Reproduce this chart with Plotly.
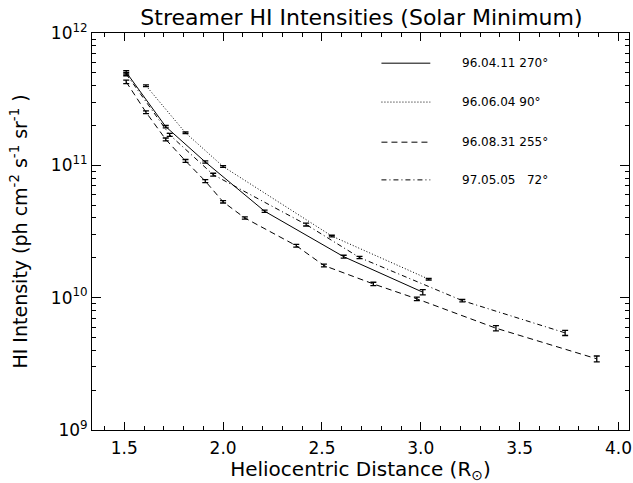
import plotly.graph_objects as go

# Heliocentric distance (solar radii) and HI intensity (ph cm^-2 s^-1 sr^-1)
r_960411 = [1.51, 1.71, 1.91, 2.21, 2.61, 3.01]
i_960411 = [5.05e11, 1.96e11, 1.06e11, 4.5e10, 2.04e10, 1.10e10]
e_960411 = [0.03, 0.02, 0.02, 0.02, 0.025, 0.045]

r_960604 = [1.61, 1.81, 2.00, 2.55, 3.04]
i_960604 = [4.0e11, 1.76e11, 9.8e10, 2.92e10, 1.38e10]
e_960604 = [0.015, 0.015, 0.015, 0.015, 0.015]

r_960831 = [1.51, 1.61, 1.71, 1.81, 1.91, 2.00, 2.11, 2.37, 2.51, 2.76, 2.98, 3.38, 3.89]
i_960831 = [4.27e11, 2.52e11, 1.57e11, 1.08e11, 7.6e10, 5.3e10, 4.0e10,
            2.47e10, 1.75e10, 1.27e10, 9.8e9, 5.88e9, 3.45e9]
e_960831 = [0.03, 0.025, 0.025, 0.025, 0.025, 0.02, 0.02, 0.025, 0.025, 0.03, 0.03, 0.045, 0.05]

r_970505 = [1.51, 1.73, 1.95, 2.42, 2.69, 3.21, 3.73]
i_970505 = [4.9e11, 1.70e11, 8.5e10, 3.57e10, 2.01e10, 9.5e9, 5.42e9]
e_970505 = [0.03, 0.025, 0.025, 0.025, 0.02, 0.02, 0.045]

labels = ["96.04.11\u00a0270°", "96.06.04\u00a090°", "96.08.31\u00a0255°",
          "97.05.05\u00a0\u00a0\u00a072°"]
dashes = ["solid", "1px,2px", "6px,4px", "5px,3px,1px,3px"]

xtick_vals = [1.5, 2.0, 2.5, 3.0, 3.5, 4.0]
xtick_text = ["1.5", "2.0", "2.5", "3.0", "3.5", "4.0"]
ytick_vals = [1e9, 1e10, 1e11, 1e12]
ytick_text = ["10<sup>9</sup>", "10<sup>10</sup>", "10<sup>11</sup>", "10<sup>12</sup>"]

series = [
    (r_960411, i_960411, e_960411),
    (r_960604, i_960604, e_960604),
    (r_960831, i_960831, e_960831),
    (r_970505, i_970505, e_970505),
]

FONT = "DejaVu Sans"
fig = go.Figure()
for (r, inten, frac), dash, name in zip(series, dashes, labels):
    fig.add_trace(go.Scatter(
        x=r, y=inten, mode="lines", name=name,
        line=dict(color="black", width=1, dash=dash),
        error_y=dict(type="data", array=[v * f for v, f in zip(inten, frac)],
                     color="black", thickness=1.3, width=3),
        showlegend=False,
    ))

# hand-drawn key in the upper right
key_y = [0.924, 0.826, 0.725, 0.630]
for yk, dash, name in zip(key_y, dashes, labels):
    fig.add_shape(type="line", xref="paper", yref="paper",
                  x0=0.539, x1=0.630, y0=yk, y1=yk,
                  line=dict(color="black", width=1, dash=dash))
    fig.add_annotation(xref="paper", yref="paper", x=0.685, y=yk,
                       text=name, showarrow=False, xanchor="left",
                       yanchor="middle", font=dict(family=FONT, size=12, color="black"))

fig.update_layout(
    width=633, height=483,
    margin=dict(l=92, r=1, t=33, b=53),
    paper_bgcolor="white", plot_bgcolor="white",
    font=dict(family=FONT, size=16, color="black"),
    title=dict(text="Streamer HI Intensities (Solar Minimum)", x=0.571, xanchor="center",
               y=1 - 17 / 483, yanchor="middle", font=dict(family=FONT, size=22)),
    xaxis=dict(
        range=[1.337, 4.053], tickvals=xtick_vals, ticktext=xtick_text,
        ticks="inside", ticklen=8, tickwidth=1, tickcolor="black",
        minor=dict(dtick=0.1, tick0=1.5, ticks="inside", ticklen=4, tickcolor="black"),
        showline=True, linecolor="black", linewidth=1, mirror="allticks",
        showgrid=False, zeroline=False, tickfont=dict(size=17),
        ticklabeloverflow="allow", ticklabelstandoff=3,
        title=dict(text="Heliocentric Distance (R<sub>⊙</sub>)", standoff=4,
                   font=dict(size=20)),
    ),
    yaxis=dict(
        type="log", range=[9, 12],
        tickvals=ytick_vals, ticktext=ytick_text,
        ticks="inside", ticklen=9, tickwidth=1, tickcolor="black",
        minor=dict(dtick="D1", ticks="inside", ticklen=4, tickcolor="black"),
        showline=True, linecolor="black", linewidth=1, mirror="allticks",
        showgrid=False, zeroline=False, tickfont=dict(size=17),
        title=dict(text="HI Intensity (ph cm<sup>-2</sup> s<sup>-1</sup> sr<sup>-1</sup> )",
                   standoff=18, font=dict(size=19)),
    ),
)

fig.write_html("out.html")
